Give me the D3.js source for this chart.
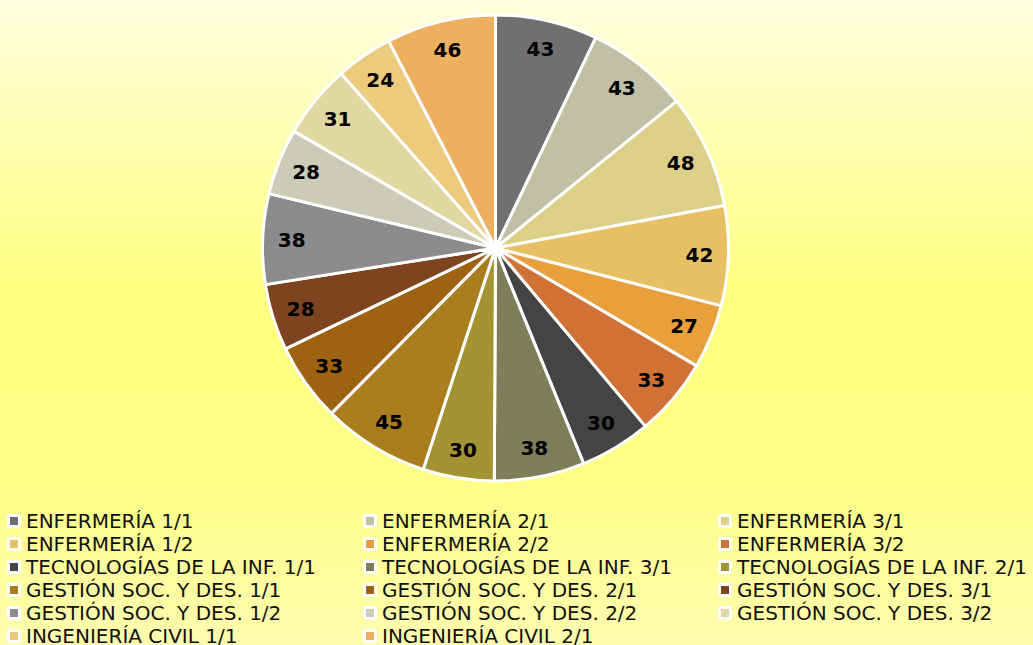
<!DOCTYPE html>
<html>
<head>
<meta charset="utf-8">
<script src="https://cdn.jsdelivr.net/npm/d3@7"></script>
<style>
  html, body { margin: 0; padding: 0; overflow: hidden; }
</style>
</head>
<body>
<div id="chart"></div>
<script>
// slice labels, values and colours, in clockwise order from 12 o'clock
const categories = [
    "ENFERMERÍA 1/1", "ENFERMERÍA 2/1", "ENFERMERÍA 3/1",
    "ENFERMERÍA 1/2", "ENFERMERÍA 2/2", "ENFERMERÍA 3/2",
    "TECNOLOGÍAS DE LA INF. 1/1", "TECNOLOGÍAS DE LA INF. 3/1", "TECNOLOGÍAS DE LA INF. 2/1",
    "GESTIÓN SOC. Y DES. 1/1", "GESTIÓN SOC. Y DES. 2/1", "GESTIÓN SOC. Y DES. 3/1",
    "GESTIÓN SOC. Y DES. 1/2", "GESTIÓN SOC. Y DES. 2/2", "GESTIÓN SOC. Y DES. 3/2",
    "INGENIERÍA CIVIL 1/1", "INGENIERÍA CIVIL 2/1"
];
const values = [43, 43, 48, 42, 27, 33, 30, 38, 30, 45, 33, 28, 38, 28, 31, 24, 46];
const colors = [
    "#707070", "#c0c0a4", "#dcd088",
    "#e8c064", "#e8a03c", "#d07236",
    "#444444", "#7e7e5a", "#a39332",
    "#aa7e1e", "#9d6212", "#7e4420",
    "#8c8c8c", "#cccbb8", "#e0d8a0",
    "#ecca7e", "#ecb060"
];

window.onload = () => {
    const w = 1033;
    const h = 645;
    const cx = 495.5;
    const cy = 248;
    const radius = 233;
    const labelRadius = 204;

    const data = categories.map((c, i) => ({ name: c, value: values[i], color: colors[i] }));

    const svg = d3.select("#chart")
        .append("svg")
        .attr("width", w)
        .attr("height", h);

    // background gradient
    const grad = svg.append("defs")
        .append("linearGradient")
        .attr("id", "bg")
        .attr("x1", 0).attr("y1", 0)
        .attr("x2", 0).attr("y2", 1);
    grad.append("stop").attr("offset", "0%").attr("stop-color", "#fffee0");
    grad.append("stop").attr("offset", "45%").attr("stop-color", "#ffff80");
    grad.append("stop").attr("offset", "75%").attr("stop-color", "#ffff88");
    grad.append("stop").attr("offset", "100%").attr("stop-color", "#fffcb0");

    svg.append("rect")
        .attr("width", w)
        .attr("height", h)
        .attr("fill", "url(#bg)");

    const pie = d3.pie()
        .sort(null)
        .value((d) => { return d.value; });

    const arc = d3.arc()
        .innerRadius(0)
        .outerRadius(radius);

    const labelArc = d3.arc()
        .innerRadius(labelRadius)
        .outerRadius(labelRadius);

    const g = svg.append("g")
        .attr("transform", `translate(${cx}, ${cy})`);

    const arcs = pie(data);

    g.selectAll("path.slice")
        .data(arcs)
        .enter()
        .append("path")
        .attr("class", "slice")
        .attr("d", arc)
        .attr("fill", (d) => { return d.data.color; })
        .attr("stroke", "#ffffff")
        .attr("stroke-width", 3)
        .attr("stroke-linejoin", "round");

    g.selectAll("text.val")
        .data(arcs)
        .enter()
        .append("text")
        .attr("class", "val")
        .attr("transform", (d) => { return `translate(${labelArc.centroid(d)})`; })
        .attr("text-anchor", "middle")
        .attr("dy", "0.36em")
        .attr("font-family", "DejaVu Sans")
        .attr("font-weight", "bold")
        .attr("font-size", 20)
        .attr("fill", "#000000")
        .text((d) => { return d.data.value; });

    // legend, three columns
    const colX = [7, 363, 718];
    const rowY0 = 521;
    const rowStep = 23;

    const legend = svg.append("g");
    const items = legend.selectAll("g.item")
        .data(data)
        .enter()
        .append("g")
        .attr("class", "item")
        .attr("transform", (d, i) => {
            return `translate(${colX[i % 3]}, ${rowY0 + Math.floor(i / 3) * rowStep})`;
        });

    items.append("rect")
        .attr("x", 0)
        .attr("y", -7)
        .attr("width", 14)
        .attr("height", 14)
        .attr("rx", 3)
        .attr("fill", "#ffffff");

    items.append("rect")
        .attr("x", 3)
        .attr("y", -4)
        .attr("width", 8)
        .attr("height", 8)
        .attr("fill", (d) => { return d.color; });

    items.append("text")
        .attr("x", 19)
        .attr("dy", "0.36em")
        .attr("font-family", "DejaVu Sans")
        .attr("font-size", 20)
        .attr("fill", "#111111")
        .text((d) => { return d.name; });
};
</script>
</body>
</html>
